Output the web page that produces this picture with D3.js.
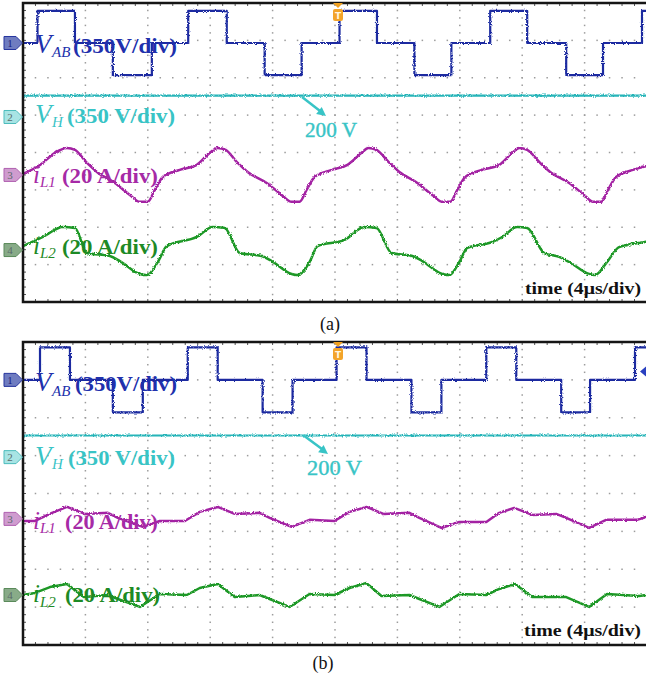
<!DOCTYPE html>
<html><head><meta charset="utf-8">
<script src="https://cdn.jsdelivr.net/npm/d3@7"></script>
<style>html,body{margin:0;padding:0;background:#fff}svg{display:block}</style>
</head><body>
<svg id="scope" width="646" height="678"></svg>
<script>
// ---------- scope settings ----------
const unitsPerDiv = [350, 350, 20, 20];      // CH1..CH4
const timePerDivUs = 4;
const hDivs = 10, vDivs = 8;

// ---------- (a) waveforms ----------
const vabTimeA  = [0, 0.93, 3.33, 5.76, 8.26, 10.59, 13.06, 15.49, 17.86, 20.29, 22.69, 25.09, 27.46, 29.95, 32.32, 34.82, 37.18, 39.68, 40];
const vabVoltsA = [0, 300, 0, -300, 0, 300, 0, -300, 0, 300, 0, -300, 0, 300, 0, -300, 0, 300, 300];
const vhTimeA   = [0, 40];
const vhVoltsA  = [200, 200];
const iL1TimeA  = [0, 1.09, 2.05, 2.82, 3.33, 4.10, 4.74, 5.89, 6.85, 7.49, 8.0, 8.45, 8.96, 10.05, 11.14, 11.97, 12.48,
                   12.99, 13.76, 14.40, 15.62, 16.58, 17.22, 17.73, 18.18, 18.69, 19.78, 20.80, 21.70, 22.14,
                   22.66, 23.49, 24.13, 25.28, 26.24, 26.88, 27.39, 27.84, 28.35, 29.44, 30.53, 31.36, 31.81,
                   32.32, 33.15, 33.79, 35.01, 35.97, 36.54, 37.06, 37.50, 38.02, 39.10, 40];
const iL1AmpsA  = [0.5, 5.3, 11.8, 14.4, 13.4, 6.4, 1.6, -4.3, -10.7, -14.4, -14.4, -8.0, -1.1, 2.7, 5.4, 11.8, 14.4,
                   13.4, 6.4, 1.6, -4.3, -10.7, -14.4, -14.4, -8.0, -1.1, 2.7, 5.4, 11.8, 14.4,
                   13.4, 6.4, 1.6, -4.3, -10.7, -14.4, -14.4, -8.0, -1.1, 2.7, 5.4, 11.8, 14.4,
                   13.4, 6.4, 1.6, -4.3, -10.7, -14.4, -14.4, -8.0, -1.1, 2.7, 4.8];
const iL2TimeA  = [0, 1.28, 2.56, 3.33, 4.10, 5.57, 6.21, 7.49, 7.94, 8.64, 9.22, 11.14, 12.16, 12.93, 13.89, 15.30, 15.94,
                   17.22, 17.60, 18.37, 18.88, 20.61, 21.89, 22.66, 23.62, 24.96, 25.60, 26.88, 27.33, 27.97,
                   28.48, 30.08, 30.72, 31.68, 32.32, 33.41, 34.37, 35.01, 36.29, 36.67, 37.44, 38.21, 39.87, 40];
const iL2AmpsA  = [2.1, 7.0, 12.3, 11.8, -1.6, -3.2, -5.9, -12.8, -13.4, -6.4, 2.1, 7.0, 12.3, 11.8, -1.6, -3.2, -5.9,
                   -12.8, -13.4, -6.4, 2.1, 5.4, 12.3, 11.8, -1.6, -3.2, -5.9, -12.8, -13.4, -6.4,
                   1.1, 4.3, 7.0, 12.3, 11.8, -1.6, -3.7, -6.4, -12.8, -13.4, -6.4, 1.6, 4.3, 4.5];

// ---------- (b) waveforms ----------
const vabTimeB  = [0, 1.09, 3.01, 5.76, 7.68, 10.56, 12.48, 15.36, 17.28, 20.10, 22.02, 24.90, 26.82, 29.70, 31.62, 34.50, 36.35, 39.23, 40];
const vabVoltsB = [0, 300, 0, -300, 0, 300, 0, -300, 0, 300, 0, -300, 0, 300, 0, -300, 0, 300, 300];
const vhTimeB   = [0, 40];
const vhVoltsB  = [200, 200];
const iL1TimeB  = [0, 0.77, 1.86, 2.82, 3.97, 5.44, 6.08, 7.68, 8.77, 10.37, 11.33, 12.48, 13.57, 15.17, 15.81, 17.22,
                   18.37, 19.97, 20.93, 22.02, 23.10, 24.77, 25.41, 26.82, 27.97, 29.70, 30.53, 31.49, 32.64, 34.18,
                   34.82, 36.29, 37.38, 39.36, 40];
const iL1AmpsB  = [-1.1, -1.1, 3.2, 6.3, 2.6, 3.2, 0.5, -4.2, -1.1, -1.1, 3.7, 6.3, 2.6, 3.2, 0.5, -4.2,
                   -0.5, -1.1, 3.7, 6.3, 2.6, 3.2, 0.5, -4.8, -1.6, -1.6, 3.2, 5.8, 2.1, 2.6,
                   0.5, -4.8, -0.5, -0.5, 1.1];
const iL2TimeB  = [0, 0.77, 1.73, 2.82, 3.90, 5.44, 6.08, 7.49, 8.77, 10.50, 11.33, 12.48, 13.57, 15.17, 15.81, 17.09,
                   18.37, 19.97, 20.93, 22.02, 22.98, 24.77, 25.41, 26.69, 27.97, 29.70, 30.53, 31.55, 32.64, 34.82,
                   36.29, 37.44, 39.49, 40];
const iL2AmpsB  = [0, 1.1, 4.2, 5.8, -1.1, 0, -2.1, -6.3, 0.5, 0, 3.7, 5.8, -1.1, 0, -2.1, -6.3,
                   0.5, 0, 3.7, 6.3, -0.5, 0, -2.1, -6.3, 0.5, 0, 3.2, 5.8, -1.1, -1.1,
                   -6.3, 0.5, -0.5, 0];

// ---------- labels ----------
const chSymbols   = ["V", "V", "i", "i"];
const chSubs      = ["AB", "H", "L1", "L2"];
const chScales    = ["(350V/div)", "(350 V/div)", "(20 A/div)", "(20 A/div)"];
const levelNote   = "200 V";
const timeNote    = "time (4\u03bcs/div)";
const panelTitles = ["(a)", "(b)"];

// ---------- styling ----------
const traceColors = ["#1c2ba0", "#27b4b8", "#a322a3", "#1f9826"];
const labelColors = ["#2030ac", "#38c4c6", "#a62aa6", "#1d8a25"];
const markFill    = ["#6f7cc0", "#a8e4e4", "#cf9ccf", "#88ab88"];
const markStroke  = ["#26359e", "#4cbcbc", "#b060b0", "#5a8a5a"];
const serif = "'Liberation Serif', 'Times New Roman', serif";

const svg = d3.select("#scope");
const defs = svg.append("defs");

// slight acquisition jitter on traces
const jit = defs.append("filter").attr("id", "jitter")
  .attr("filterUnits", "userSpaceOnUse").attr("x", 0).attr("y", 0).attr("width", 646).attr("height", 678);
jit.append("feTurbulence").attr("type", "fractalNoise").attr("baseFrequency", "0.9")
  .attr("numOctaves", 2).attr("seed", 5).attr("result", "n");
jit.append("feDisplacementMap").attr("in", "SourceGraphic").attr("in2", "n")
  .attr("scale", 3).attr("xChannelSelector", "R").attr("yChannelSelector", "G");

const x = d3.scaleLinear().domain([0, hDivs * timePerDivUs]).range([23, 647]);

const panels = [
  {
    id: "a", top: 3, bottom: 302,
    offsets: [2.93, 0.95, -0.60, -2.61],
    series: [[vabTimeA, vabVoltsA], [vhTimeA, vhVoltsA], [iL1TimeA, iL1AmpsA], [iL2TimeA, iL2AmpsA]],
    curves: [d3.curveStepAfter, d3.curveLinear, d3.curveMonotoneX, d3.curveMonotoneX],
    labels: [
      {x: 35, base: 53, subX: 52, subBase: 57, restX: 73, restW: 104},
      {x: 35, base: 123, subX: 52, subBase: 127, restX: 67, restW: 108},
      {x: 33, base: 183, subX: 40, subBase: 187, restX: 62, restW: 96},
      {x: 33, base: 254, subX: 40, subBase: 258, restX: 62, restW: 96}
    ],
    note: {x: 305, base: 137, w: 52, ax1: 302, ay1: 97, ax2: 326, ay2: 116},
    time: {x: 525, base: 294, w: 116},
    title: {x: 330, base: 330},
    trigArrow: false
  },
  {
    id: "b", top: 342, bottom: 645,
    offsets: [3.0, 0.96, -0.67, -2.68],
    series: [[vabTimeB, vabVoltsB], [vhTimeB, vhVoltsB], [iL1TimeB, iL1AmpsB], [iL2TimeB, iL2AmpsB]],
    curves: [d3.curveStepAfter, d3.curveLinear, d3.curveLinear, d3.curveLinear],
    labels: [
      {x: 35, base: 391, subX: 52, subBase: 396, restX: 75, restW: 102},
      {x: 35, base: 465, subX: 52, subBase: 469, restX: 68, restW: 107},
      {x: 33, base: 529, subX: 40, subBase: 533, restX: 65, restW: 93},
      {x: 33, base: 602, subX: 40, subBase: 607, restX: 65, restW: 95}
    ],
    note: {x: 307, base: 475, w: 55, ax1: 303, ay1: 435, ax2: 328, ay2: 454},
    time: {x: 524, base: 636, w: 117},
    title: {x: 323, base: 669},
    trigArrow: true
  }
];

panels.forEach((p, pi) => {
  const y = d3.scaleLinear().domain([-vDivs / 2, vDivs / 2]).range([p.bottom, p.top]);
  const g = svg.append("g");

  defs.append("clipPath").attr("id", "clip-" + p.id)
    .append("rect").attr("x", 23).attr("y", p.top).attr("width", 646 - 23).attr("height", p.bottom - p.top);

  // graticule: dotted division lines
  const grid = g.append("g").attr("fill", "#9c9c9c");
  const yMinor = d3.range(1, vDivs * 5).map(i => -vDivs / 2 + i * 0.2);
  const xMinor = d3.range(1, hDivs * 5).map(i => i * timePerDivUs / 5);
  d3.range(1, hDivs).forEach(k => {
    grid.selectAll(null).data(yMinor).join("rect")
      .attr("x", x(k * timePerDivUs) - 0.75).attr("y", d => y(d) - 0.75)
      .attr("width", 1.5).attr("height", 1.5);
  });
  d3.range(1, vDivs).forEach(j => {
    grid.selectAll(null).data(xMinor).join("rect")
      .attr("x", d => x(d) - 0.75).attr("y", y(-vDivs / 2 + j) - 0.75)
      .attr("width", 1.5).attr("height", 1.5);
  });

  // border ticks
  const ticks = g.append("g").attr("stroke", "#555").attr("stroke-width", 1);
  ticks.selectAll(null).data(xMinor).join("line")
    .attr("x1", d => x(d)).attr("x2", d => x(d)).attr("y1", p.top).attr("y2", p.top + 3);
  ticks.selectAll(null).data(xMinor).join("line")
    .attr("x1", d => x(d)).attr("x2", d => x(d)).attr("y1", p.bottom).attr("y2", p.bottom - 3);
  ticks.selectAll(null).data(yMinor).join("line")
    .attr("x1", 23).attr("x2", 26).attr("y1", d => y(d)).attr("y2", d => y(d));

  // traces
  const tr = g.append("g").attr("clip-path", "url(#clip-" + p.id + ")")
    .append("g").attr("filter", "url(#jitter)");
  p.series.forEach(([ts, vs], c) => {
    const pts = ts.map((t, i) => [t, vs[i]]);
    const line = d3.line()
      .x(d => x(d[0]))
      .y(d => y(p.offsets[c] + d[1] / unitsPerDiv[c]))
      .curve(p.curves[c]);
    tr.append("path").attr("d", line(pts)).attr("fill", "none")
      .attr("stroke", traceColors[c]).attr("stroke-width", c < 2 ? 2.2 : 2.5)
      .attr("stroke-linejoin", "round");
  });

  // frame
  g.append("path")
    .attr("d", `M646,${p.top}H23V${p.bottom}H646`)
    .attr("fill", "none").attr("stroke", "#151515").attr("stroke-width", 2.5);

  // channel ground markers
  p.offsets.forEach((o, c) => {
    const yy = y(o);
    g.append("path")
      .attr("d", `M4,${yy - 6.5}H16L22.5,${yy}L16,${yy + 6.5}H4Z`)
      .attr("fill", markFill[c]).attr("stroke", markStroke[c]).attr("stroke-width", 1);
    g.append("text").attr("x", 10).attr("y", yy + 4).attr("text-anchor", "middle")
      .attr("font-family", serif).attr("font-size", 11)
      .attr("fill", c === 0 ? "#1a2580" : "#5a6a6a").text(c + 1);
  });

  // trigger position marker
  const tx = 338;
  g.append("path").attr("d", `M${tx - 5},${p.top}L${tx + 5},${p.top}L${tx},${p.top + 5}Z`).attr("fill", "#f0a020");
  g.append("rect").attr("x", tx - 5).attr("y", p.top + 6).attr("width", 10).attr("height", 12)
    .attr("rx", 2).attr("fill", "#f3a42a");
  g.append("text").attr("x", tx).attr("y", p.top + 16).attr("text-anchor", "middle")
    .attr("font-family", "'DejaVu Sans', sans-serif").attr("font-size", 9).attr("font-weight", "bold")
    .attr("fill", "#fff6e0").text("T");

  if (p.trigArrow) {
    const ty = y(p.offsets[0] + 0.22);
    g.append("path").attr("d", `M640,${ty}L646,${ty - 5}L646,${ty + 5}Z`).attr("fill", "#2a40c0");
  }

  // channel labels
  p.labels.forEach((L, c) => {
    const t = g.append("g").attr("fill", labelColors[c]).attr("font-family", serif);
    t.append("text").attr("x", L.x).attr("y", L.base)
      .attr("font-size", c < 2 ? 27 : 25).attr("font-style", "italic").text(chSymbols[c]);
    t.append("text").attr("x", L.subX).attr("y", L.subBase)
      .attr("font-size", 15).attr("font-style", "italic").text(chSubs[c]);
    t.append("text").attr("x", L.restX).attr("y", L.base)
      .attr("font-size", 22).attr("font-weight", "bold")
      .attr("textLength", L.restW).attr("lengthAdjust", "spacingAndGlyphs").text(chScales[c]);
  });

  // VH level annotation
  const N = p.note;
  g.append("line").attr("x1", N.ax1).attr("y1", N.ay1).attr("x2", N.ax2 - 4).attr("y2", N.ay2 - 3.5)
    .attr("stroke", labelColors[1]).attr("stroke-width", 2.5);
  const ang = Math.atan2(N.ay2 - N.ay1, N.ax2 - N.ax1);
  const hl = 9, hw = 4.5;
  const bx = N.ax2 - hl * Math.cos(ang), by = N.ay2 - hl * Math.sin(ang);
  g.append("path")
    .attr("d", `M${N.ax2},${N.ay2}L${bx - hw * Math.sin(ang)},${by + hw * Math.cos(ang)}L${bx + hw * Math.sin(ang)},${by - hw * Math.cos(ang)}Z`)
    .attr("fill", labelColors[1]);
  g.append("text").attr("x", N.x).attr("y", N.base).attr("font-family", serif)
    .attr("font-size", 22).attr("fill", labelColors[1]).attr("stroke", labelColors[1]).attr("stroke-width", 0.4)
    .attr("textLength", N.w).attr("lengthAdjust", "spacingAndGlyphs").text(levelNote);

  // timebase
  g.append("text").attr("x", p.time.x).attr("y", p.time.base).attr("font-family", serif)
    .attr("font-size", 17).attr("font-weight", "bold").attr("fill", "#111")
    .attr("textLength", p.time.w).attr("lengthAdjust", "spacingAndGlyphs").text(timeNote);

  // caption
  svg.append("text").attr("x", p.title.x).attr("y", p.title.base).attr("text-anchor", "middle")
    .attr("font-family", serif).attr("font-size", 18).attr("fill", "#111")
    .text(panelTitles[pi]);
});
</script>
</body></html>
